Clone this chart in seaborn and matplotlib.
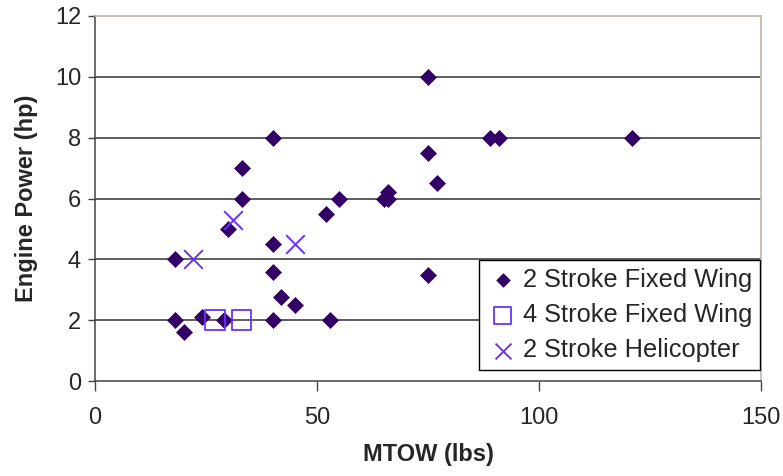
import pandas as pd
import matplotlib.pyplot as plt
import seaborn as sns

# 2 stroke fixed wing
fw2_mtow = [18, 18, 20, 24, 29, 30, 33, 33, 40, 40, 40, 42, 45, 40, 53, 52, 55, 65, 66, 66, 75, 75, 77, 75, 89, 91, 121]
fw2_hp = [4.0, 2.0, 1.6, 2.1, 2.0, 5.0, 6.0, 7.0, 8.0, 4.5, 3.6, 2.75, 2.5, 2.0, 2.0, 5.5, 6.0, 6.0, 6.2, 6.0, 10.0, 7.5, 6.5, 3.5, 8.0, 8.0, 8.0]

# 4 stroke fixed wing
fw4_mtow = [27, 33]
fw4_hp = [2.0, 2.0]

# 2 stroke helicopter
heli_mtow = [22, 31, 45]
heli_hp = [4.0, 5.3, 4.5]

dark = "#330066"
violet = "#6633FF"

sns.set_style("white")
plt.rcParams['font.family'] = ['Liberation Sans', 'DejaVu Sans']

fig = plt.figure(figsize=(7.83, 4.76), dpi=100)
ax = fig.add_axes([95 / 783, 1 - 381 / 476, 666 / 783, 365 / 476])

df1 = pd.DataFrame({"mtow": fw2_mtow, "hp": fw2_hp})
df2 = pd.DataFrame({"mtow": fw4_mtow, "hp": fw4_hp})
df3 = pd.DataFrame({"mtow": heli_mtow, "hp": heli_hp})

sns.scatterplot(data=df1, x="mtow", y="hp", ax=ax, marker="D", s=66,
                color=dark, edgecolor=dark, linewidth=0.5,
                label="2 Stroke Fixed Wing", zorder=3)
sns.scatterplot(data=df2, x="mtow", y="hp", ax=ax, marker="s", s=200,
                facecolors="none", edgecolor=violet, linewidth=1.3,
                label="4 Stroke Fixed Wing", zorder=3)
sns.scatterplot(data=df3, x="mtow", y="hp", ax=ax, marker="x", s=180,
                color=violet, linewidth=1.4,
                label="2 Stroke Helicopter", zorder=3)

ax.set_xlim(0, 150)
ax.set_ylim(0, 12)
ax.set_xticks([0, 50, 100, 150])
ax.set_yticks(range(0, 13, 2))

for yv in range(2, 12, 2):
    ax.axhline(yv, color="#333333", linewidth=1.1, zorder=1)

for side in ["left", "bottom"]:
    ax.spines[side].set_color("#444444")
    ax.spines[side].set_linewidth(1.1)
for side in ["top", "right"]:
    ax.spines[side].set_color("#bcb8ad")
    ax.spines[side].set_linewidth(1.2)

ax.tick_params(axis="x", direction="out", length=7, width=1, color="#444444",
               pad=12, labelsize=17, bottom=True)
ax.tick_params(axis="y", direction="out", length=5, width=1, color="#444444",
               pad=5, labelsize=17, left=True)

ax.set_xlabel("MTOW (lbs)", fontsize=17, fontweight="bold", labelpad=10)
ax.set_ylabel("Engine Power (hp)", fontsize=17, fontweight="bold", labelpad=12)

leg = ax.legend(loc="lower right", bbox_to_anchor=(0.9985, 0.03), fontsize=18.3,
                frameon=True, fancybox=False, framealpha=1, edgecolor="black",
                handletextpad=0.15, handlelength=1.3, borderpad=0.3,
                labelspacing=0.45, markerscale=0.85, borderaxespad=0)
leg.get_frame().set_linewidth(1.0)

plt.savefig("out.png", dpi=100)
